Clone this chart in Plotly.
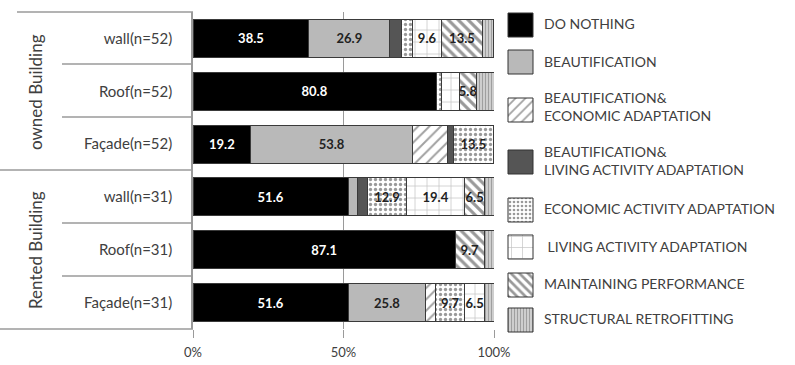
import plotly.graph_objects as go

# ---- data -------------------------------------------------------------
rows = ["wall(n=52)", "Roof(n=52)", "Façade(n=52)",
        "wall(n=31)", "Roof(n=31)", "Façade(n=31)"]
groups = ["owned Building", "Rented Building"]

do_nothing     = [38.5, 80.8, 19.2, 51.6, 87.1, 51.6]
beautification = [26.9, 0.0, 53.8, 3.2, 0.0, 25.8]
beaut_econ     = [0.0, 0.0, 11.5, 0.0, 0.0, 3.2]
beaut_living   = [3.8, 0.0, 1.9, 3.2, 0.0, 0.0]
economic       = [3.8, 1.9, 13.5, 12.9, 0.0, 9.7]
living         = [9.6, 5.8, 0.0, 19.4, 0.0, 6.5]
maintaining    = [13.5, 5.8, 0.0, 6.5, 9.7, 0.0]
structural     = [3.8, 5.8, 0.0, 3.2, 3.2, 3.2]

# which segments carry a value label
show_do_nothing     = [1, 1, 1, 1, 1, 1]
show_beautification = [1, 0, 1, 0, 0, 1]
show_economic       = [0, 0, 1, 1, 0, 1]
show_living         = [1, 0, 0, 1, 0, 1]
show_maintaining    = [1, 1, 0, 1, 1, 0]
no_labels           = [0, 0, 0, 0, 0, 0]

legend_names = ["DO NOTHING", "BEAUTIFICATION",
                "BEAUTIFICATION&<br>ECONOMIC ADAPTATION",
                "BEAUTIFICATION&<br>LIVING ACTIVITY ADAPTATION",
                "ECONOMIC ACTIVITY ADAPTATION",
                " LIVING ACTIVITY ADAPTATION",
                "MAINTAINING PERFORMANCE",
                "STRUCTURAL RETROFITTING"]

FONT = "Lato"
TXT = "#404040"
W, H = 795, 365

# ---- series styles ----------------------------------------------------
styles = [
    dict(color="#000000", pattern=None, tc="#ffffff"),
    dict(color="#b9b9b9", pattern=None, tc="#222222"),
    dict(color="#ffffff", pattern=dict(shape="/", fgcolor="#444444", bgcolor="#ffffff",
                                       size=8, solidity=0.25), tc="#222222"),
    dict(color="#555555", pattern=None, tc="#ffffff"),
    dict(color="#ffffff", pattern=dict(shape=".", fgcolor="#333333", bgcolor="#ffffff",
                                       size=5, solidity=0.35), tc="#222222"),
    dict(color="#ffffff", pattern=dict(shape="+", fgcolor="#888888", bgcolor="#ffffff",
                                       size=12, solidity=0.12), tc="#222222"),
    dict(color="#ffffff", pattern=dict(shape="\\", fgcolor="#333333", bgcolor="#ffffff",
                                       size=7, solidity=0.45), tc="#222222"),
    dict(color="#ffffff", pattern=dict(shape="|", fgcolor="#666666", bgcolor="#d8d8d8",
                                       size=3, solidity=0.45), tc="#222222"),
]

series = [do_nothing, beautification, beaut_econ, beaut_living,
          economic, living, maintaining, structural]
shows = [show_do_nothing, show_beautification, no_labels, no_labels,
         show_economic, show_living, show_maintaining, no_labels]

fig = go.Figure()

for vals, show, st, name in zip(series, shows, styles, legend_names):
    marker = dict(color=st["color"], line=dict(color="#3a3a3a", width=1))
    if st["pattern"] is not None:
        marker["pattern"] = st["pattern"]
    fig.add_trace(go.Bar(
        y=rows, x=vals, orientation="h", name=name.replace("<br>", " "),
        marker=marker,
        text=[f"{v:.1f}" if s and v > 0 else "" for v, s in zip(vals, show)],
        textposition="inside", insidetextanchor="middle",
        constraintext="none", textangle=0,
        textfont=dict(family=FONT, size=13, color=st["tc"], weight="bold"),
        showlegend=False, xaxis="x", yaxis="y",
    ))

# ---- legend drawn on a pixel-unit overlay axis -------------------------
legend_swatch_y = [25, 62, 110, 162, 210, 247, 285, 320]
legend_text_y = [23, 61, 106, 160, 208, 246, 283, 318]
sw_x0, sw_x1, sw_h = 508, 533, 24
for st, cy in zip(styles, legend_swatch_y):
    y0, y1 = cy - sw_h / 2, cy + sw_h / 2
    kw = dict(fillcolor=st["color"])
    if st["pattern"] is not None:
        p = dict(st["pattern"])
        p["size"] = max(3, p["size"] - 1)
        kw = dict(fillpattern=p, fillcolor="#ffffff")
    fig.add_trace(go.Scatter(
        x=[sw_x0, sw_x1, sw_x1, sw_x0, sw_x0], y=[y0, y0, y1, y1, y0],
        mode="lines", fill="toself", line=dict(color="#333333", width=1),
        hoverinfo="skip", showlegend=False, xaxis="x2", yaxis="y2", **kw))

annotations = []
for name, ty in zip(legend_names, legend_text_y):
    annotations.append(dict(
        x=542, y=ty, xref="x2", yref="y2", text=name, showarrow=False,
        xanchor="left", yanchor="middle", align="left",
        font=dict(family=FONT, size=14, color=TXT)))

# rotated group labels
for g, cy in zip(groups, [92, 250]):
    annotations.append(dict(
        x=35, y=cy, xref="x2", yref="y2", text=g, showarrow=False,
        textangle=-90, xanchor="center", yanchor="middle",
        font=dict(family=FONT, size=17, color=TXT)))

# category separators in the label area
line_col = "#9a9a9a"
shapes = [
    dict(type="line", xref="x2", yref="y2", x0=17, x1=193, y0=12, y1=12,
         line=dict(color=line_col, width=1.5)),
    dict(type="line", xref="x2", yref="y2", x0=0, x1=193, y0=170, y1=170,
         line=dict(color=line_col, width=1.5)),
    dict(type="line", xref="x2", yref="y2", x0=0, x1=193, y0=329, y1=329,
         line=dict(color=line_col, width=1.5)),
]
for yy in [64, 117, 223, 276]:
    shapes.append(dict(type="line", xref="x2", yref="y2", x0=62, x1=193,
                       y0=yy, y1=yy, line=dict(color=line_col, width=1.5)))

fig.update_layout(
    width=W, height=H,
    margin=dict(l=0, r=0, t=0, b=0),
    paper_bgcolor="white", plot_bgcolor="rgba(0,0,0,0)",
    barmode="stack", bargap=0.28,
    font=dict(family=FONT, color=TXT),
    xaxis=dict(domain=[193 / W, 494 / W], range=[0, 100], anchor="y",
               tickvals=[0, 50, 100], ticktext=["0%", "50%", "100%"],
               ticks="outside", ticklen=8, tickcolor="#9a9a9a",
               showgrid=True, gridcolor="#9a9a9a", gridwidth=1.2,
               zeroline=False, showline=False, automargin=False,
               tickfont=dict(family=FONT, size=13, color=TXT),
               ticklabelstandoff=3, fixedrange=True),
    yaxis=dict(domain=[1 - 329 / H, 1 - 12 / H], anchor="x",
               type="category", categoryorder="array", categoryarray=rows,
               autorange="reversed", showline=True, linecolor="#9a9a9a",
               linewidth=1.5, ticks="", showgrid=False, automargin=False,
               tickfont=dict(family=FONT, size=15, color=TXT),
               ticklabelstandoff=16, fixedrange=True),
    xaxis2=dict(domain=[0, 1], range=[0, W], anchor="y2", visible=False,
                fixedrange=True),
    yaxis2=dict(domain=[0, 1], range=[H, 0], anchor="x2", visible=False,
                fixedrange=True),
    annotations=annotations, shapes=shapes,
    showlegend=False,
)

fig.write_html("out.html")
